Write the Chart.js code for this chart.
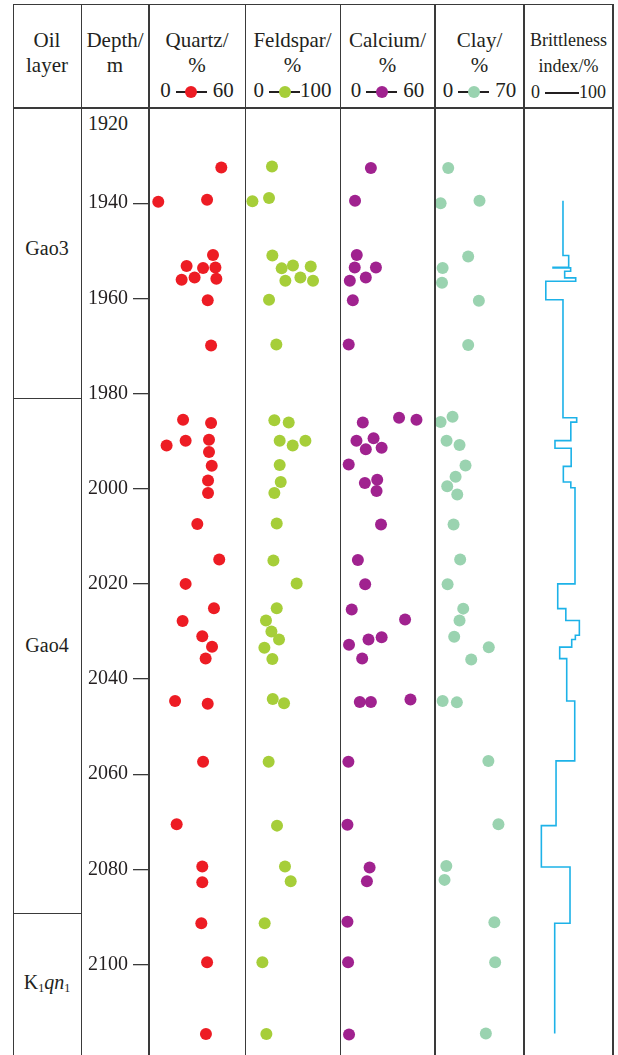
<!DOCTYPE html>
<html>
<head>
<meta charset="utf-8">
<script src="https://cdn.jsdelivr.net/npm/chart.js@4.4.1/dist/chart.umd.min.js"></script>
<style>
  html, body { margin: 0; padding: 0; background: #fff; overflow: hidden; }
  #fig { position: relative; width: 618px; height: 1055px; overflow: hidden;
         font-family: "Liberation Serif", "Times New Roman", serif; color: #231f20; }
  .ln { position: absolute; background: #3a3a3a; z-index: 5; }
  .v { width: 1.5px; top: 4px; height: 1060px; }
  .h { height: 1.5px; }
  .hd { position: absolute; top: 28px; text-align: center; font-size: 21px; line-height: 25px; white-space: nowrap; }
  .hd.small { font-size: 18px; line-height: 26px; top: 27px; }
  .mk { display: inline-block; position: relative; width: 31px; height: 12px; margin: 0 6px 0 5px; vertical-align: -1px; }
  .mk::before { content: ''; position: absolute; left: 0; right: 0; top: 5.4px; height: 1.3px; background: #231f20; }
  .mk i { position: absolute; left: 9.5px; top: 0; width: 12px; height: 12px; border-radius: 50%; }
  .layer { position: absolute; left: 13px; width: 68px; text-align: center; font-size: 20px; line-height: 24px; }
  .layer sub { font-size: 12px; vertical-align: -3px; }
  .cv { position: absolute; top: 108px; }
</style>
</head>
<body>
<div id="fig">
  <!-- frame -->
  <div class="ln v" style="left:12.5px"></div>
  <div class="ln v" style="left:80.5px"></div>
  <div class="ln v" style="left:148.3px"></div>
  <div class="ln v" style="left:244.5px"></div>
  <div class="ln v" style="left:339.5px"></div>
  <div class="ln v" style="left:434.3px"></div>
  <div class="ln v" style="left:523.3px"></div>
  <div class="ln v" style="left:612.3px"></div>
  <div class="ln h" style="left:12.5px; width:601px; top:3.5px"></div>
  <div class="ln h" style="left:12.5px; width:601px; top:107.3px"></div>
  <div class="ln h" style="left:12.5px; width:69px; top:397.5px"></div>
  <div class="ln h" style="left:12.5px; width:69px; top:912.5px"></div>

  <!-- header -->
  <div class="hd" style="left:13px; width:68px">Oil<br>layer</div>
  <div class="hd" style="left:81px; width:68px">Depth/<br>m</div>
  <div class="hd" style="left:149px; width:96px">Quartz/<br>%<br>0<span class="mk"><i style="background:#ed1c24"></i></span>60</div>
  <div class="hd" style="left:245px; width:95px">Feldspar/<br>%<br>0<span class="mk" style="margin-right:0"><i style="background:#a6ce39"></i></span>100</div>
  <div class="hd" style="left:340px; width:95px">Calcium/<br>%<br>0<span class="mk"><i style="background:#a0228f"></i></span>60</div>
  <div class="hd" style="left:435px; width:89px">Clay/<br>%<br>0<span class="mk"><i style="background:#9ad3b0"></i></span>70</div>
  <div class="hd small" style="left:524px; width:89px">Brittleness<br>index/%<br>0<span class="mk" style="width:34px; margin:0 0 0 5px"></span>100</div>

  <!-- oil layers -->
  <div class="layer" style="top:236px">Gao3</div>
  <div class="layer" style="top:633px">Gao4</div>
  <div class="layer" style="top:970px">K<sub>1</sub><i>qn</i><sub>1</sub></div>
  <div style="position:absolute; left:81px; width:47px; top:112px; text-align:right; font-size:20px; line-height:22px">1920</div>

  <canvas id="quartzChart" class="cv" width="164" height="947" style="left:81px"></canvas>
  <canvas id="feldsparChart" class="cv" width="95" height="947" style="left:245px"></canvas>
  <canvas id="calciumChart" class="cv" width="95" height="947" style="left:340px"></canvas>
  <canvas id="clayChart" class="cv" width="89" height="947" style="left:435px"></canvas>
  <canvas id="brittleChart" class="cv" width="89" height="947" style="left:524px"></canvas>
</div>

<script>
/* ---------- DATA ---------- */
const depthTicks = [1920, 1940, 1960, 1980, 2000, 2020, 2040, 2060, 2080, 2100];
const depthRange = [1920, 2119];

const quartzDepth = [1932.5, 1939.7, 1939.3, 1950.9, 1953.2, 1953.6, 1953.5, 1956.1, 1955.6, 1955.9,
  1960.4, 1969.9, 1985.5, 1986.2, 1990.9, 1989.9, 1989.7, 1992.3, 1995.2, 1998.3, 2000.9, 2007.4,
  2014.9, 2020.0, 2025.1, 2027.8, 2031.0, 2033.2, 2035.7, 2044.6, 2045.2, 2057.4, 2070.5, 2079.4,
  2082.7, 2091.3, 2099.5, 2114.6];
const quartzValue = [45.2, 5.8, 36.3, 40.0, 23.5, 33.8, 41.5, 20.4, 28.5, 42.1,
  36.7, 38.8, 21.3, 38.8, 11.0, 22.9, 37.5, 37.5, 39.2, 36.9, 36.9, 30.2,
  43.9, 22.9, 40.6, 21.0, 33.3, 39.4, 35.4, 16.3, 36.7, 33.8, 17.3, 33.3,
  33.3, 32.7, 36.3, 35.6];

const feldsparDepth = [1932.3, 1939.6, 1938.9, 1951.0, 1953.7, 1953.1, 1953.3, 1956.3, 1955.6, 1956.3,
  1960.3, 1969.7, 1985.6, 1986.1, 1989.9, 1990.9, 1989.9, 1995.0, 1998.6, 2000.9, 2007.3, 2015.1,
  2019.9, 2025.1, 2027.7, 2030.0, 2031.7, 2033.4, 2035.8, 2044.2, 2045.1, 2057.4, 2070.8, 2079.4,
  2082.5, 2091.3, 2099.5, 2114.6];
const feldsparValue = [28.4, 7.8, 25.3, 28.8, 38.6, 50.5, 69.2, 42.5, 58.3, 71.6,
  25.3, 33.0, 30.9, 46.0, 36.5, 50.2, 63.6, 36.5, 37.6, 30.9, 33.4, 29.9,
  54.4, 33.4, 22.1, 27.8, 35.8, 20.4, 28.8, 29.2, 41.1, 24.9, 33.7, 42.1,
  48.1, 20.7, 18.3, 22.5];

const calciumDepth = [1932.6, 1939.5, 1950.9, 1953.5, 1953.5, 1956.3, 1955.6, 1960.4, 1969.7,
  1986.1, 1985.1, 1985.5, 1989.9, 1989.4, 1991.7, 1991.4, 1994.9, 1998.8, 1998.1, 2000.5, 2007.5,
  2015.0, 2020.1, 2025.4, 2027.5, 2031.7, 2031.2, 2032.8, 2035.7, 2044.8, 2044.8, 2044.3, 2057.4,
  2070.6, 2079.6, 2082.5, 2091.0, 2099.5, 2114.7];
const calciumValue = [19.5, 9.5, 10.6, 9.3, 22.7, 6.2, 16.3, 8.1, 5.5,
  14.4, 37.3, 48.3, 10.4, 21.2, 16.3, 26.3, 5.5, 15.7, 23.5, 23.1, 25.9,
  11.3, 15.9, 7.4, 41.1, 18.0, 26.3, 5.7, 14.0, 12.5, 19.5, 44.5, 5.3,
  4.7, 18.7, 17.0, 4.7, 5.1, 5.7];

const clayDepth = [1932.6, 1940.0, 1939.5, 1951.2, 1953.6, 1956.7, 1960.5, 1969.8, 1986.0, 1984.9,
  1989.9, 1990.8, 1995.1, 1997.5, 1999.5, 2001.2, 2007.5, 2014.9, 2020.1, 2025.2, 2027.7, 2031.1,
  2033.3, 2035.9, 2044.6, 2044.9, 2057.2, 2070.5, 2079.3, 2082.2, 2091.1, 2099.5, 2114.5];
const clayValue = [10.4, 4.4, 35.0, 26.1, 6.0, 5.5, 34.5, 26.1, 4.4, 13.8,
  9.1, 19.3, 24.0, 16.2, 9.6, 17.5, 14.6, 19.8, 9.9, 22.2, 19.3, 15.1,
  42.3, 28.5, 6.0, 17.2, 42.0, 49.9, 8.9, 7.5, 46.7, 47.3, 40.0];

// brittleness log: value holds from each top depth down to the next one
const brittleTop = [1939.5, 1951.0, 1953.5, 1953.6, 1954.3, 1955.7, 1956.4, 1960.3, 1985.1, 1986.0,
  1989.9, 1991.5, 1995.3, 1998.6, 1999.8, 2020.0, 2025.2, 2027.7, 2030.8, 2031.7, 2033.3, 2035.7,
  2044.6, 2057.2, 2070.8, 2079.5, 2091.3, 2114.5];
const brittleValue = [43.8, 50.2, 32.6, 52.4, 45.7, 58.1, 24.5, 43.8, 59.2, 52.6,
  34.8, 53.0, 44.2, 52.6, 57.3, 37.9, 47.0, 62.2, 57.7, 53.6, 40.1, 48.0,
  57.0, 36.0, 19.5, 51.7, 34.5, 34.5];

/* ---------- HELPERS ---------- */
const toPoints = (depths, values) => depths.map((d, i) => ({ x: values[i], y: d }));

function depthAxis(show) {
  const axis = {
    type: 'linear',
    reverse: true,
    min: depthRange[0],
    max: depthRange[1],
    display: show
  };
  if (!show) return axis;
  return Object.assign(axis, {
    afterBuildTicks: s => { s.ticks = depthTicks.map(v => ({ value: v })); },
    afterFit: s => { s.width = 68; s.paddingTop = 0; s.paddingBottom = 0; },
    ticks: {
      color: '#231f20',
      padding: 5,
      font: { family: 'Liberation Serif', size: 20 },
      callback: v => (v === depthTicks[0] ? '' : String(v))
    },
    grid: { drawOnChartArea: false, tickLength: 16, color: '#3a3a3a', lineWidth: 1.3 },
    border: { display: false }
  });
}

function makeChart(id, dataset, xMax, showDepth) {
  return new Chart(document.getElementById(id), {
    type: dataset.type,
    data: { datasets: [dataset] },
    options: {
      responsive: false,
      animation: false,
      events: [],
      layout: { padding: 0, autoPadding: false },
      plugins: { legend: { display: false }, tooltip: { enabled: false } },
      scales: {
        x: { type: 'linear', min: 0, max: xMax, display: false },
        y: depthAxis(showDepth)
      }
    }
  });
}

function dots(depths, values, color) {
  return {
    type: 'scatter',
    data: toPoints(depths, values),
    pointRadius: 6,
    pointBackgroundColor: color,
    pointBorderWidth: 0,
    clip: false
  };
}

/* ---------- CHARTS ---------- */
makeChart('quartzChart', dots(quartzDepth, quartzValue, '#ed1c24'), 60, true);
makeChart('feldsparChart', dots(feldsparDepth, feldsparValue, '#a6ce39'), 100, false);
makeChart('calciumChart', dots(calciumDepth, calciumValue, '#a0228f'), 60, false);
makeChart('clayChart', dots(clayDepth, clayValue, '#9ad3b0'), 70, false);

makeChart('brittleChart', {
  type: 'line',
  data: toPoints(brittleTop, brittleValue),
  stepped: 'after',
  borderColor: '#1db2e8',
  borderWidth: 1.6,
  pointRadius: 0,
  fill: false,
  tension: 0,
  clip: false
}, 100, false);
</script>
</body>
</html>
